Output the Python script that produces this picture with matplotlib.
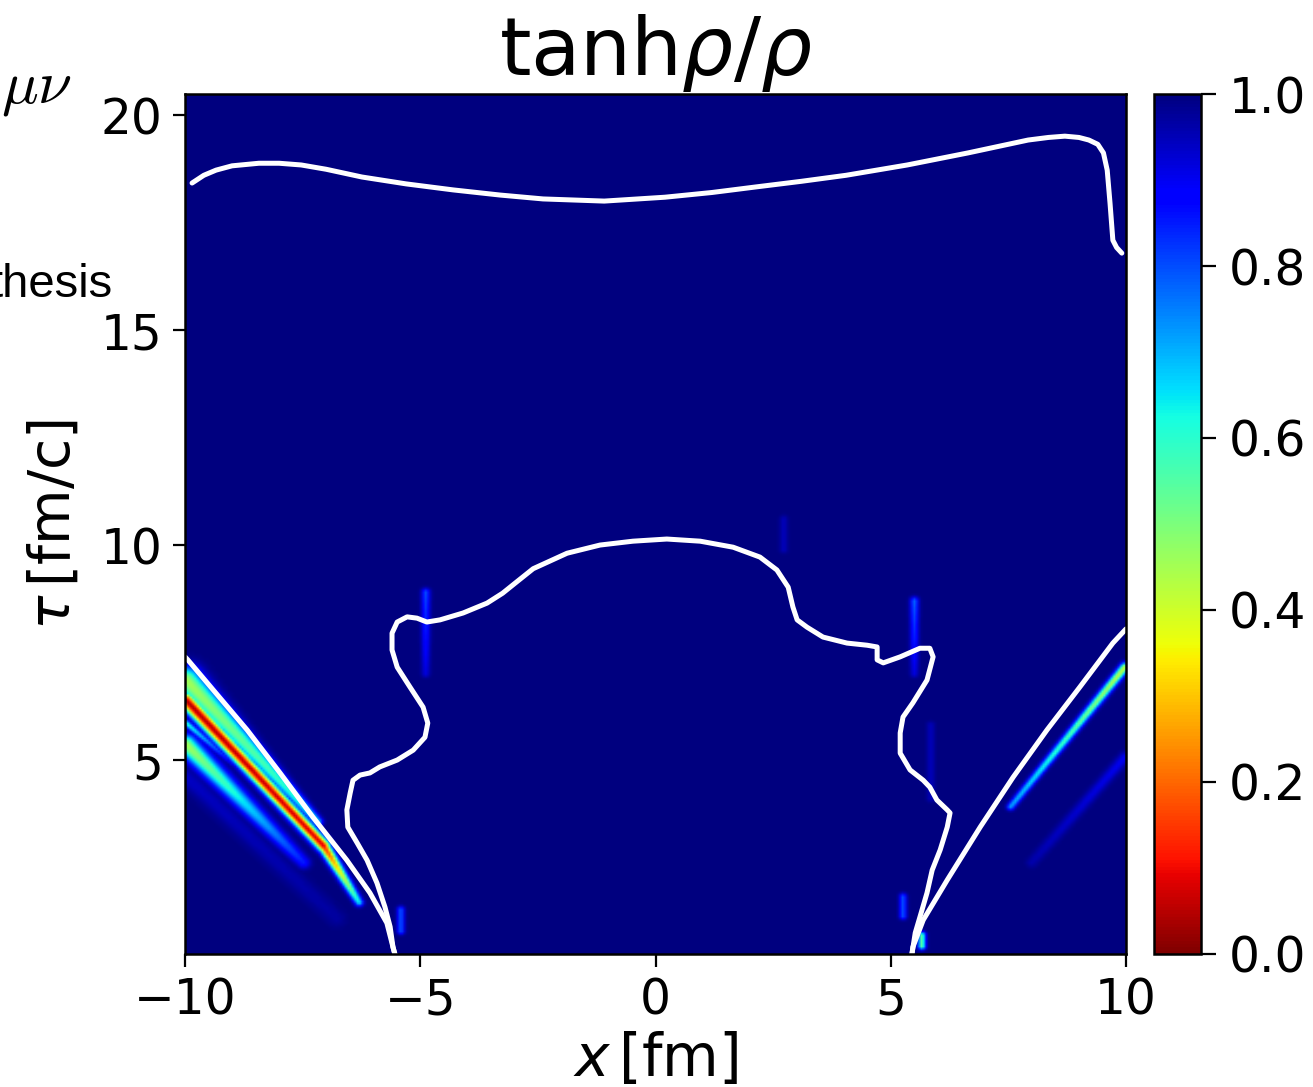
import numpy as np
import matplotlib.pyplot as plt

# ------------------------------------------------------------
# tanh(rho)/rho in the (x, tau) plane, with iso-lines on top
# ------------------------------------------------------------

# upper iso-line
top_x = [-9.85, -9.60, -9.34, -9.00, -8.43, -8.00, -7.53, -7.00, -6.24, -5.30, -4.30,
         -3.30, -2.39, -1.09, 0.20, 1.20, 2.14, 3.10, 4.05, 5.35, 6.64, 7.92, 8.35,
         8.70, 9.00, 9.21, 9.40, 9.52, 9.60, 9.66, 9.72, 9.80, 9.91]
top_tau = [18.42, 18.60, 18.72, 18.82, 18.88, 18.88, 18.84, 18.74, 18.56, 18.40, 18.26,
           18.14, 18.05, 18.00, 18.09, 18.20, 18.33, 18.46, 18.60, 18.84, 19.12, 19.42, 19.48,
           19.51, 19.48, 19.42, 19.32, 19.12, 18.72, 17.95, 17.09, 16.92, 16.79]

# central iso-line (left foot -> dome -> right foot)
blob_x = [-5.54, -5.58, -5.64, -5.75, -5.92, -6.13, -6.34, -6.54, -6.56, -6.49, -6.43,
          -6.28, -6.07, -5.86, -5.49, -5.15, -4.90, -4.84, -4.94, -5.22, -5.49, -5.60,
          -5.60, -5.49, -5.28, -5.07, -4.86, -4.58, -4.09, -3.58, -3.25, -3.00, -2.60,
          -1.88, -1.18, -0.48, 0.24, 0.95, 1.65, 2.22, 2.58, 2.82, 2.92, 3.01, 3.22,
          3.56, 4.07, 4.50, 4.71, 4.71, 4.84, 5.20, 5.62, 5.83, 5.90, 5.77, 5.47,
          5.26, 5.20, 5.20, 5.41, 5.69, 5.83, 5.98, 6.20, 6.26, 6.20, 6.05, 5.88,
          5.77, 5.62, 5.52, 5.45]
blob_tau = [0.49, 0.65, 1.12, 1.58, 2.14, 2.67, 3.07, 3.44, 3.84, 4.23, 4.53,
            4.65, 4.70, 4.84, 5.00, 5.23, 5.53, 5.86, 6.23, 6.70, 7.16, 7.56,
            7.95, 8.21, 8.33, 8.30, 8.21, 8.26, 8.42, 8.65, 8.88, 9.10, 9.45,
            9.81, 10.00, 10.09, 10.14, 10.09, 9.95, 9.72, 9.42, 9.02, 8.56, 8.26, 8.09,
            7.86, 7.72, 7.67, 7.63, 7.33, 7.26, 7.40, 7.60, 7.60, 7.40, 6.86, 6.33,
            6.00, 5.63, 5.16, 4.77, 4.53, 4.37, 4.07, 3.84, 3.77, 3.44, 2.91, 2.44,
            1.91, 1.35, 0.98, 0.49]

# outgoing fronts
left_x = [-10.0, -9.94, -9.40, -8.68, -7.98, -7.28, -6.56, -6.07, -5.71, -5.58, -5.54]
left_tau = [7.40, 7.33, 6.63, 5.70, 4.70, 3.67, 2.67, 1.91, 1.21, 0.65, 0.49]
right_x = [5.45, 5.47, 5.69, 6.20, 6.90, 7.60, 8.32, 9.02, 9.72, 10.0]
right_tau = [0.49, 0.65, 1.28, 2.21, 3.44, 4.60, 5.70, 6.70, 7.72, 8.05]

# ridges of low tanh(rho)/rho: start/end point, value at each end, half-width at each end
ridge_x0 = [-10.0, -10.0, -7.07, -10.0, -10.0, -10.0, 9.98, 9.98,
            -4.90, 5.50, 5.85, 2.72, -5.43, 5.26, 5.66]
ridge_t0 = [6.85, 6.38, 2.98, 5.35, 5.85, 4.60, 7.15, 5.05,
            7.00, 7.00, 4.10, 9.90, 1.00, 1.35, 0.65]
ridge_x1 = [-7.20, -7.07, -6.32, -7.50, -9.00, -6.80, 7.55, 8.00,
            -4.90, 5.50, 5.85, 2.72, -5.43, 5.26, 5.66]
ridge_t1 = [3.55, 2.98, 1.67, 2.60, 4.90, 1.30, 3.90, 2.60,
            8.90, 8.70, 5.80, 10.60, 1.50, 1.80, 0.90]
ridge_v0 = [0.45, 0.04, 0.12, 0.45, 0.60, 0.94, 0.42, 0.90,
            0.92, 0.92, 0.95, 0.95, 0.80, 0.80, 0.55]
ridge_v1 = [0.65, 0.08, 0.65, 0.85, 0.90, 0.97, 0.72, 0.96,
            0.80, 0.78, 0.95, 0.95, 0.80, 0.80, 0.55]
ridge_w0 = [0.30, 0.16, 0.12, 0.22, 0.07, 0.20, 0.10, 0.12,
            0.09, 0.09, 0.09, 0.09, 0.08, 0.08, 0.08]
ridge_w1 = [0.10, 0.13, 0.09, 0.14, 0.07, 0.20, 0.08, 0.12,
            0.09, 0.09, 0.09, 0.09, 0.08, 0.08, 0.08]

X_MIN, X_MAX = -10.0, 10.0
T_MIN, T_MAX = 0.49, 20.49

# ------------------------------------------------------------
# Build the field on a grid
# ------------------------------------------------------------
xs = np.linspace(X_MIN, X_MAX, 401)
ts = np.linspace(T_MIN, T_MAX, 401)
XX, TT = np.meshgrid(xs, ts)
field = np.ones_like(XX)

for i in range(len(ridge_x0)):
    ax_, at_ = ridge_x0[i], ridge_t0[i]
    dx, dt = ridge_x1[i] - ax_, ridge_t1[i] - at_
    L2 = dx * dx + dt * dt
    s = np.clip(((XX - ax_) * dx + (TT - at_) * dt) / L2, 0, 1)
    d = np.hypot(XX - (ax_ + s * dx), TT - (at_ + s * dt))
    v = ridge_v0[i] + (ridge_v1[i] - ridge_v0[i]) * s
    w = ridge_w0[i] + (ridge_w1[i] - ridge_w0[i]) * s
    field = np.minimum(field, 1 - (1 - v) * np.exp(-(d / w) ** 2))

# ------------------------------------------------------------
# Plot
# ------------------------------------------------------------
fig = plt.figure(figsize=(13.13, 10.87), dpi=100)
ax = fig.add_axes([0.1409, 0.1224, 0.7167, 0.7911])
cax = fig.add_axes([0.8789, 0.1224, 0.0358, 0.7911])

im = ax.imshow(field, origin="lower", extent=[X_MIN, X_MAX, T_MIN, T_MAX],
               cmap="jet_r", vmin=0, vmax=1, aspect="auto", interpolation="bilinear")

line_kw = dict(color="white", lw=3.6, solid_joinstyle="round", solid_capstyle="round")
ax.plot(top_x, top_tau, **line_kw)
ax.plot(blob_x, blob_tau, **line_kw)
ax.plot(left_x, left_tau, **line_kw)
ax.plot(right_x, right_tau, **line_kw)

ax.set_xlim(X_MIN, X_MAX)
ax.set_ylim(T_MIN, T_MAX)
ax.set_xticks([-10, -5, 0, 5, 10])
ax.set_yticks([5, 10, 15, 20])
ax.tick_params(labelsize=35, length=9, width=1.6, pad=7)
for sp in ax.spines.values():
    sp.set_linewidth(1.8)

ax.set_xlabel(r"$x\,[\mathrm{fm}]$", fontsize=42, labelpad=5)
ax.set_ylabel(r"$\tau\,[\mathrm{fm/c}]$", fontsize=41, labelpad=14)
ax.set_title(r"$\mathrm{tanh}\rho/\rho$", fontsize=58, pad=14)

cb = fig.colorbar(im, cax=cax, ticks=[0.0, 0.2, 0.4, 0.6, 0.8, 1.0])
cb.ax.tick_params(labelsize=35, length=11, width=1.6, pad=9)
cb.outline.set_linewidth(1.8)

# pieces of slide text on the left margin
fig.text(72 / 1313, 1 - 103 / 1087, r"$\mu\nu$", fontsize=44, ha="right",
         va="baseline", math_fontfamily="cm")
fig.text(113 / 1313, 1 - 297 / 1087, "thesis", fontsize=34, ha="right",
         va="baseline", family="Liberation Sans")

fig.savefig("out.png", dpi=100)
